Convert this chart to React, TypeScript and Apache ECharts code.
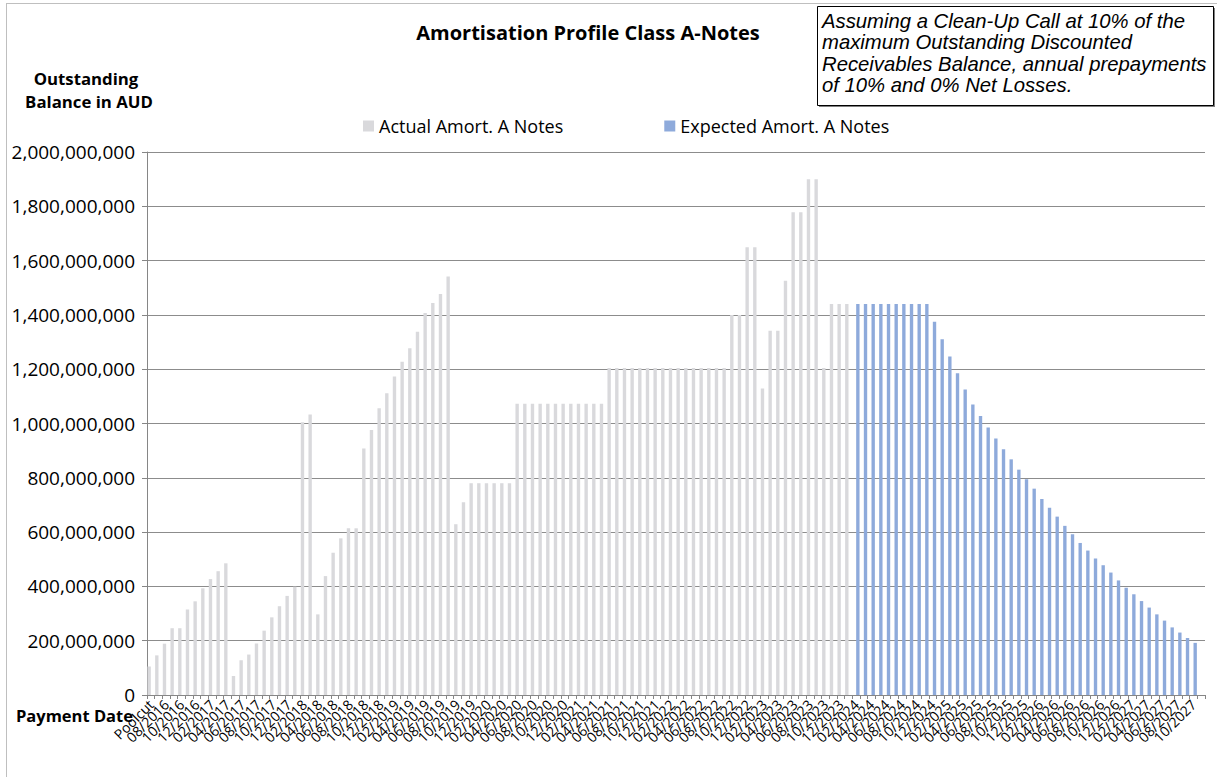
import React, { useEffect, useRef } from "react";
import * as echarts from "echarts";

const categories: string[] = [
  "Poolcut", "07/2016", "08/2016", "09/2016", "10/2016", "11/2016", "12/2016",
  "01/2017", "02/2017", "03/2017", "04/2017", "05/2017", "06/2017", "07/2017", "08/2017", "09/2017", "10/2017", "11/2017", "12/2017",
  "01/2018", "02/2018", "03/2018", "04/2018", "05/2018", "06/2018", "07/2018", "08/2018", "09/2018", "10/2018", "11/2018", "12/2018",
  "01/2019", "02/2019", "03/2019", "04/2019", "05/2019", "06/2019", "07/2019", "08/2019", "09/2019", "10/2019", "11/2019", "12/2019",
  "01/2020", "02/2020", "03/2020", "04/2020", "05/2020", "06/2020", "07/2020", "08/2020", "09/2020", "10/2020", "11/2020", "12/2020",
  "01/2021", "02/2021", "03/2021", "04/2021", "05/2021", "06/2021", "07/2021", "08/2021", "09/2021", "10/2021", "11/2021", "12/2021",
  "01/2022", "02/2022", "03/2022", "04/2022", "05/2022", "06/2022", "07/2022", "08/2022", "09/2022", "10/2022", "11/2022", "12/2022",
  "01/2023", "02/2023", "03/2023", "04/2023", "05/2023", "06/2023", "07/2023", "08/2023", "09/2023", "10/2023", "11/2023", "12/2023",
  "01/2024", "02/2024", "03/2024", "04/2024", "05/2024", "06/2024", "07/2024", "08/2024", "09/2024", "10/2024", "11/2024", "12/2024",
  "01/2025", "02/2025", "03/2025", "04/2025", "05/2025", "06/2025", "07/2025", "08/2025", "09/2025", "10/2025", "11/2025", "12/2025",
  "01/2026", "02/2026", "03/2026", "04/2026", "05/2026", "06/2026", "07/2026", "08/2026", "09/2026", "10/2026", "11/2026", "12/2026",
  "01/2027", "02/2027", "03/2027", "04/2027", "05/2027", "06/2027", "07/2027", "08/2027", "09/2027", "10/2027", "11/2027",
];

// Outstanding balance, millions of AUD (actual, from Poolcut to 01/2024)
const actualMillions: number[] = [
  105, 146, 189, 246, 246, 315, 345, 393, 427, 456,
  485, 70, 128, 149, 190, 237, 286, 327, 365, 399,
  1005, 1033, 297, 438, 524, 577, 614, 614, 908, 976,
  1056, 1111, 1173, 1227, 1277, 1338, 1407, 1444, 1477, 1541,
  629, 710, 780, 780, 780, 780, 780, 780,
  1073, 1073, 1073, 1073, 1073, 1073, 1073, 1073, 1073, 1073, 1073, 1073,
  1204, 1204, 1204, 1204, 1204, 1204, 1204, 1204, 1204, 1204, 1204, 1204, 1204, 1204, 1204, 1204,
  1400, 1400, 1649, 1649, 1129, 1342, 1342, 1526, 1778, 1778, 1900, 1900, 1204, 1440, 1440, 1440,
];

// Expected balance, millions of AUD (from 02/2024 to 10/2027)
const expectedMillions: number[] = [
  1440, 1440, 1440, 1440, 1440, 1440, 1440, 1440, 1440, 1440,
  1375, 1310, 1247, 1185, 1125, 1070, 1028, 985, 945, 905,
  868, 830, 795, 760, 722, 690, 657, 623, 592, 560,
  532, 503, 478, 451, 422, 395, 371, 346, 322, 297,
  274, 249, 230, 210, 192,
];

const expectedStartIndex = actualMillions.length;
const lastLabelIndex = 136;

const noteLines: string[] = [
  "Assuming a Clean-Up Call at 10% of the",
  "maximum Outstanding Discounted",
  "Receivables Balance, annual prepayments",
  "of 10% and 0% Net Losses.",
];

export default function App() {
  const ref = useRef<HTMLDivElement>(null);

  useEffect(() => {
    if (!ref.current) return;
    const chart = echarts.init(ref.current, undefined, { renderer: "svg" });

    const actualData = categories.map((_, i) =>
      i < actualMillions.length ? actualMillions[i] * 1e6 : null
    );
    const expectedData = categories.map((_, i) => {
      const j = i - expectedStartIndex;
      return j >= 0 && j < expectedMillions.length ? expectedMillions[j] * 1e6 : null;
    });

    const axisGrey = "#868686";

    const option: any = {
      animation: false,
      backgroundColor: "#ffffff",
      grid: { left: 147, right: 12, top: 152, bottom: 82, containLabel: false },
      legend: {
        left: 358,
        top: 112,
        itemWidth: 11,
        itemHeight: 11,
        itemGap: 101,
        icon: "rect",
        textStyle: { fontFamily: "Open Sans", fontSize: 18, color: "#000" },
        data: ["Actual Amort. A Notes", "Expected Amort. A Notes"],
      },
      xAxis: {
        type: "category",
        data: categories,
        boundaryGap: true,
        axisLine: { show: true, lineStyle: { color: axisGrey, width: 1 } },
        axisTick: { show: true, interval: 0, length: 4, lineStyle: { color: axisGrey } },
        axisLabel: {
          interval: 0,
          rotate: 45,
          margin: 7,
          fontFamily: "Open Sans",
          fontSize: 14,
          color: "#000",
          formatter: (value: string, index: number) =>
            index % 2 === 0 && index <= lastLabelIndex ? value : "",
        },
        splitLine: { show: false },
      },
      yAxis: {
        type: "value",
        min: 0,
        max: 2000000000,
        interval: 200000000,
        axisLine: { show: true, lineStyle: { color: axisGrey, width: 1 } },
        axisTick: { show: true, length: 5, lineStyle: { color: axisGrey } },
        axisLabel: {
          margin: 12,
          fontFamily: "Open Sans",
          fontSize: 19,
          color: "#000",
          formatter: (v: number) => v.toLocaleString("en-US"),
        },
        splitLine: { show: true, lineStyle: { color: "#8c8c8c", width: 1 } },
      },
      series: [
        {
          name: "Actual Amort. A Notes",
          type: "bar",
          data: actualData,
          itemStyle: { color: "#d9d9dc" },
          barGap: "0%",
          barCategoryGap: "12%",
        },
        {
          name: "Expected Amort. A Notes",
          type: "bar",
          data: expectedData,
          itemStyle: { color: "#8eaadb" },
          barGap: "0%",
          barCategoryGap: "12%",
        },
      ],
      graphic: {
        elements: [
          { type: "line", shape: { x1: 6.5, y1: 3, x2: 6.5, y2: 777 }, style: { stroke: "#bfbfbf", lineWidth: 1 } },
          { type: "line", shape: { x1: 6, y1: 3.5, x2: 1217, y2: 3.5 }, style: { stroke: "#bfbfbf", lineWidth: 1 } },
          {
            type: "text",
            x: 588,
            y: 32,
            style: {
              text: "Amortisation Profile Class A-Notes",
              font: "bold 20px 'Open Sans'",
              fill: "#000",
              textAlign: "center",
              textVerticalAlign: "middle",
            },
          },
          {
            type: "text",
            x: 86,
            y: 78,
            style: {
              text: "Outstanding",
              font: "bold 16.8px 'Open Sans'",
              fill: "#000",
              textAlign: "center",
              textVerticalAlign: "middle",
            },
          },
          {
            type: "text",
            x: 89,
            y: 101,
            style: {
              text: "Balance in AUD",
              font: "bold 16.8px 'Open Sans'",
              fill: "#000",
              textAlign: "center",
              textVerticalAlign: "middle",
            },
          },
          {
            type: "text",
            x: 133,
            y: 715,
            style: {
              text: "Payment Date",
              font: "bold 16.5px 'Open Sans'",
              fill: "#000",
              textAlign: "right",
              textVerticalAlign: "middle",
            },
          },
          { type: "rect", shape: { x: 819, y: 8, width: 396, height: 99 }, style: { fill: "#7f7f7f" } },
          { type: "rect", shape: { x: 817.5, y: 6.5, width: 396, height: 99 }, style: { fill: "#fff", stroke: "#000", lineWidth: 1 } },
          ...noteLines.map((t, i) => ({
            type: "text",
            x: 822,
            y: 20.5 + i * 21.6,
            style: {
              text: t,
              font: "italic 20.3px 'Liberation Sans'",
              fill: "#000",
              textAlign: "left",
              textVerticalAlign: "middle",
            },
          })),
        ],
      },
    };

    chart.setOption(option);
    return () => chart.dispose();
  }, []);

  return (
    <div
      ref={ref}
      style={{ position: "absolute", left: 0, top: 0, width: 1217, height: 777 }}
    />
  );
}
